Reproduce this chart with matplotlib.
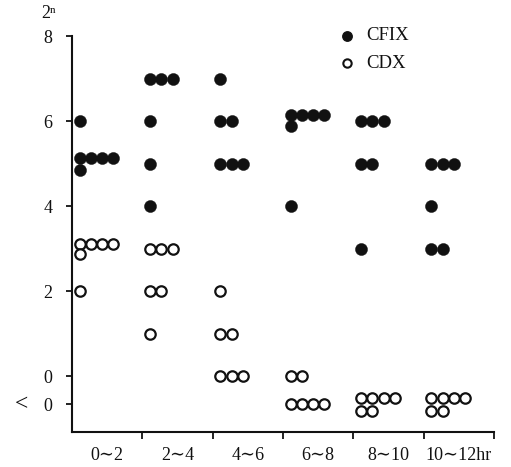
import matplotlib
matplotlib.use("Agg")
import matplotlib.pyplot as plt

plt.rcParams['font.family'] = ['Liberation Serif', 'DejaVu Serif']

# ---- data ----
groups = ["0∼2", "2∼4", "4∼6", "6∼8", "8∼10", "10∼12hr"]
ytick_vals = [8, 6, 4, 2, 0, -0.667]
ytick_labels = ["8", "6", "4", "2", "0", "0"]

# CFIX (filled): group index, column within dot stack, value (2^n)
cfix_group = [0, 0, 0, 0, 0, 0,
              1, 1, 1, 1, 1, 1,
              2, 2, 2, 2, 2, 2,
              3, 3, 3, 3, 3, 3,
              4, 4, 4, 4, 4, 4,
              5, 5, 5, 5, 5, 5]
cfix_col = [0, 0, 1, 2, 3, 0,
            0, 1, 2, 0, 0, 0,
            0, 0, 1, 0, 1, 2,
            0, 1, 2, 3, 0, 0,
            0, 1, 2, 0, 1, 0,
            0, 1, 2, 0, 0, 1]
cfix_val = [6.0, 5.13, 5.13, 5.13, 5.13, 4.85,
            7, 7, 7, 6, 5, 4,
            7, 6, 6, 5, 5, 5,
            6.14, 6.14, 6.14, 6.14, 5.88, 4,
            6, 6, 6, 5, 5, 3,
            5, 5, 5, 4, 3, 3]

# CDX (open)
cdx_group = [0, 0, 0, 0, 0, 0,
             1, 1, 1, 1, 1, 1,
             2, 2, 2, 2, 2, 2,
             3, 3, 3, 3, 3, 3,
             4, 4, 4, 4, 4, 4,
             5, 5, 5, 5, 5, 5]
cdx_col = [0, 1, 2, 3, 0, 0,
           0, 1, 2, 0, 1, 0,
           0, 0, 1, 0, 1, 2,
           0, 1, 0, 1, 2, 3,
           0, 1, 2, 3, 0, 1,
           0, 1, 2, 3, 0, 1]
cdx_val = [3.11, 3.11, 3.11, 3.11, 2.86, 2,
           3, 3, 3, 2, 2, 1,
           2, 1, 1, 0, 0, 0,
           0, 0, -0.667, -0.667, -0.667, -0.667,
           -0.52, -0.52, -0.52, -0.52, -0.82, -0.82,
           -0.52, -0.52, -0.52, -0.52, -0.82, -0.82]

COL0 = 0.11
COLW = 0.16

fig = plt.figure(figsize=(5.11, 4.67), dpi=100)
ax = fig.add_axes([0.1409, 0.0756, 0.8258, 0.8473])

cx = [g + COL0 + c * COLW for g, c in zip(cfix_group, cfix_col)]
dx = [g + COL0 + c * COLW for g, c in zip(cdx_group, cdx_col)]

ax.plot(dx, cdx_val, linestyle='none', marker='o', markersize=7.5,
        markerfacecolor='white', markeredgecolor='#111111', markeredgewidth=1.6, zorder=3)
ax.plot(cx, cfix_val, linestyle='none', marker='o', markersize=8.7,
        markerfacecolor='#111111', markeredgecolor='#111111', markeredgewidth=0.3, zorder=4)

ax.set_xlim(0, 6)
ax.set_ylim(-1.31, 8)

for s in ['top', 'right']:
    ax.spines[s].set_visible(False)
for s in ['left', 'bottom']:
    ax.spines[s].set_linewidth(1.5)
    ax.spines[s].set_color('#111111')

ax.set_yticks(ytick_vals)
ax.set_yticklabels(ytick_labels)
ax.tick_params(axis='y', direction='out', length=4, width=1.3, pad=10, labelsize=13, colors='#111111')

# "<" marker for the below-detection row
ax.annotate("<", xy=(0, -0.667), xycoords=('axes fraction', 'data'),
            xytext=(-36.7, 0), textcoords='offset points', ha='center', va='center',
            fontsize=17, color='#111111')

ax.set_xticks([1, 2, 3, 4, 5, 6])
ax.set_xticklabels([])
ax.tick_params(axis='x', which='major', direction='out', length=5, width=1.3, colors='#111111')
ax.set_xticks([i + 0.5 for i in range(len(groups))], minor=True)
ax.set_xticklabels(groups, minor=True)
ax.tick_params(axis='x', which='minor', length=0, pad=11, labelsize=13, colors='#111111')

# y-axis unit label
fig.text(49 / 511, 1 - 14 / 467, "2ⁿ", ha='center', va='center', fontsize=13, color='#111111')

# legend
fig.lines.append(plt.Line2D([346.7 / 511], [1 - 36 / 467], transform=fig.transFigure,
                            marker='o', markersize=6.8, markerfacecolor='#111111',
                            markeredgecolor='#111111', linestyle='none'))
fig.lines.append(plt.Line2D([346.7 / 511], [1 - 63.3 / 467], transform=fig.transFigure,
                            marker='o', markersize=6.0, markerfacecolor='white',
                            markeredgecolor='#111111', markeredgewidth=1.5, linestyle='none'))
fig.text(366 / 511, 1 - 36 / 467, "CFIX", ha='left', va='center', fontsize=13.5, color='#111111')
fig.text(366 / 511, 1 - 63 / 467, "CDX", ha='left', va='center', fontsize=13.5, color='#111111')

fig.savefig("out.png", dpi=100, facecolor='white')
